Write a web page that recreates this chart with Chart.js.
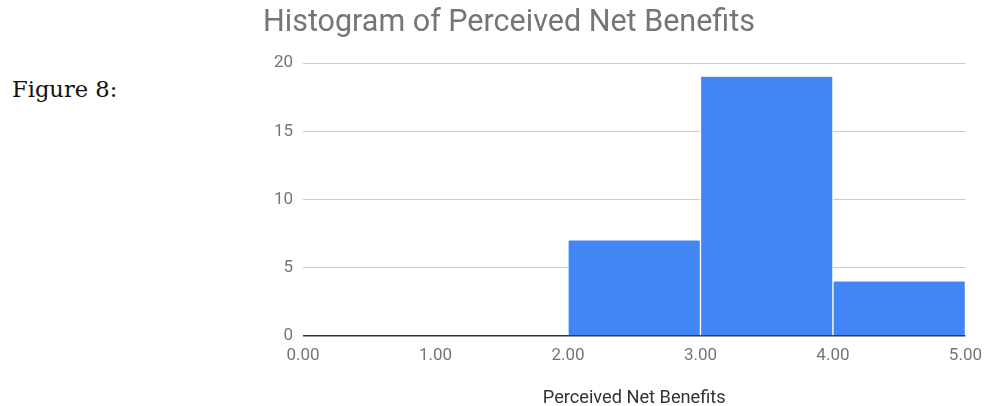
<!DOCTYPE html>
<html>
<head>
<meta charset="utf-8">
<script src="https://cdn.jsdelivr.net/npm/chart.js@4"></script>
<style>
  html, body { margin: 0; padding: 0; background: #fff; }
  body { width: 987px; height: 406px; position: relative; overflow: hidden; }
  #fig { position: absolute; left: 12px; top: 76px; font-family: "DejaVu Serif", serif; font-size: 22.6px; line-height: normal; color: #111; white-space: nowrap; }
  #wrap { position: absolute; left: 250px; top: 0; width: 742px; height: 406px; }
</style>
</head>
<body>
<div id="fig">Figure 8:</div>
<div id="wrap"><canvas id="c" width="742" height="406"></canvas></div>
<script>
// Histogram bins (edges) and the count in each bin
const binEdges = [0, 1, 2, 3, 4, 5];
const counts = [0, 0, 7, 19, 4];
const yTicks = [0, 5, 10, 15, 20];
const chartTitle = 'Histogram of Perceived Net Benefits';
const xTitle = 'Perceived Net Benefits';

const points = counts.map((c, i) => ({ x: (binEdges[i] + binEdges[i + 1]) / 2, y: c }));

new Chart(document.getElementById('c'), {
  type: 'bar',
  data: {
    datasets: [{
      data: points,
      backgroundColor: '#4285F4',
      borderColor: '#ffffff',
      borderWidth: { left: 1, right: 1, top: 0, bottom: 0 },
      borderRadius: 2,
      borderSkipped: 'start',
      barPercentage: 1,
      categoryPercentage: 1
    }]
  },
  options: {
    responsive: false,
    animation: false,
    layout: { padding: { left: 13, right: 0, top: 0, bottom: 0 } },
    plugins: {
      legend: { display: false },
      tooltip: { enabled: false },
      title: {
        display: true,
        text: chartTitle,
        align: 'start',
        color: '#757575',
        font: { family: 'Roboto', size: 30.5, weight: 'normal', lineHeight: 1.2 },
        padding: { top: 5, bottom: 21.4 }
      }
    },
    scales: {
      x: {
        type: 'linear',
        min: binEdges[0],
        max: binEdges[binEdges.length - 1],
        offset: false,
        grid: { display: false, drawTicks: false },
        border: { display: false },
        ticks: {
          stepSize: 1,
          padding: 10,
          color: '#757575',
          font: { family: 'Roboto', size: 17 },
          maxRotation: 0,
          callback: v => Number(v).toFixed(2)
        },
        title: {
          display: true,
          text: xTitle,
          color: '#333333',
          font: { family: 'Roboto', size: 18.2, lineHeight: 1 },
          padding: { top: 4, bottom: -1.5 }
        },
        afterFit: s => { s.height = 70; }
      },
      y: {
        min: yTicks[0],
        max: yTicks[yTicks.length - 1],
        grid: {
          drawTicks: false,
          color: ctx => ctx.tick && ctx.tick.value === 0 ? '#333333' : '#cccccc',
          lineWidth: ctx => ctx.tick && ctx.tick.value === 0 ? 1.5 : 1
        },
        border: { display: false },
        afterBuildTicks: s => { s.ticks = yTicks.map(v => ({ value: v })); },
        ticks: {
          padding: 10,
          color: '#757575',
          font: { family: 'Roboto', size: 17 }
        },
        afterFit: s => { s.width = 40; }
      }
    }
  }
});
</script>
</body>
</html>
